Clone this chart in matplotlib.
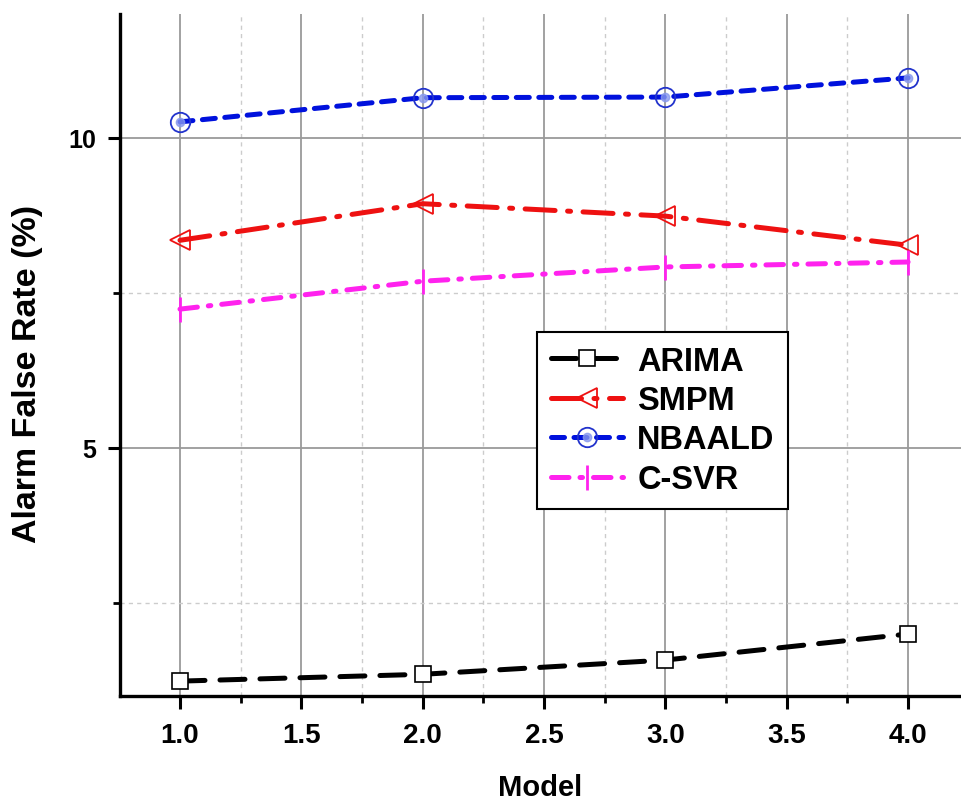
import matplotlib
matplotlib.use("Agg")
import matplotlib.pyplot as plt
from matplotlib.ticker import MultipleLocator, FixedLocator
from matplotlib.legend_handler import HandlerTuple

plt.rcParams['font.family'] = ['Liberation Sans', 'DejaVu Sans']
plt.rcParams['font.weight'] = 'bold'

models = [1.0, 2.0, 3.0, 4.0]
arima = [1.24, 1.35, 1.58, 2.00]
smpm = [8.35, 8.94, 8.74, 8.27]
nbaald = [10.26, 10.65, 10.66, 10.97]
csvr = [7.24, 7.69, 7.92, 8.00]
names = ['ARIMA', 'SMPM', 'NBAALD', 'C-SVR']
x_ticks = [1.0, 1.5, 2.0, 2.5, 3.0, 3.5, 4.0]
y_ticks = [5, 10]

fig = plt.figure(figsize=(9.61, 8.04), dpi=100)
ax = fig.add_axes([120/961, 107/804, 841/961, 682/804])

lw = 3.6
l1, = ax.plot(models, arima, color='black', lw=lw, dashes=(5, 3), dash_capstyle='round',
              marker='s', ms=11, mfc='white', mec='black', mew=1.2, label=names[0], zorder=3)
l2, = ax.plot(models, smpm, color='#ee1111', lw=lw, dashes=(6, 2.5, 0.6, 2.5), dash_capstyle='round',
              marker='<', ms=14, mfc='none', mec='#ee1111', mew=1.3, label=names[1], zorder=3)
l3, = ax.plot(models, nbaald, color='#0011dd', lw=lw, dashes=(2.6, 1.9), dash_capstyle='round',
              marker='o', ms=14, mfc='none', mec='#2233cc', mew=1.3, label=names[2], zorder=3)
d3, = ax.plot(models, nbaald, ls='none', marker='o', ms=6, mfc='#8899ee', mec='#8899ee',
              alpha=0.8, zorder=4, label='_nolegend_')
l4, = ax.plot(models, csvr, color='#ff22ee', lw=lw, dashes=(3.5, 2.2, 0.5, 2.2), dash_capstyle='round',
              marker='|', ms=18, mec='#ff22ee', mew=2.0, label=names[3], zorder=3)

ax.set_xlim(0.7528, 4.218)
ax.set_ylim(1.0, 12.0)

ax.xaxis.set_major_locator(FixedLocator(x_ticks))
ax.xaxis.set_minor_locator(MultipleLocator(0.25))
ax.yaxis.set_major_locator(FixedLocator(y_ticks))
ax.yaxis.set_minor_locator(FixedLocator([2.5, 7.5]))
ax.set_xticklabels(['%.1f' % v for v in x_ticks])
ax.set_yticklabels([str(v) for v in y_ticks])

ax.grid(True, which='major', color='#9a9a9a', lw=1.3, ls='-', zorder=0)
ax.grid(True, which='minor', color='#cccccc', lw=1.0, ls=(0, (3, 3)), zorder=0)
ax.set_axisbelow(True)

for s in ['top', 'right']:
    ax.spines[s].set_visible(False)
for s in ['left', 'bottom']:
    ax.spines[s].set_linewidth(2.4)
    ax.spines[s].set_color('black')

ax.tick_params(which='major', direction='out', length=9, width=2.2, pad=8)
ax.tick_params(which='minor', direction='out', length=5, width=2.0)
ax.tick_params(axis='x', which='major', labelsize=20, pad=10)
ax.tick_params(axis='y', which='major', labelsize=18)
for t in ax.get_xticklabels() + ax.get_yticklabels():
    t.set_fontweight('bold')

ax.set_xlabel('Model', fontsize=21, fontweight='bold', labelpad=18)
ax.set_ylabel('Alarm False Rate (%)', fontsize=24.5, fontweight='bold')
ax.yaxis.set_label_coords(-0.092, 0.474)

leg = ax.legend([l1, l2, (l3, d3), l4], names,
                handler_map={tuple: HandlerTuple(ndivide=1, pad=0)},
                loc='upper left', bbox_to_anchor=(0.496, 0.534), borderaxespad=0,
                fancybox=False, frameon=True, edgecolor='black', framealpha=1,
                prop={'size': 23.5, 'weight': 'bold'}, handlelength=2.2,
                labelspacing=0.26, borderpad=0.42, handletextpad=0.45)
leg.get_frame().set_linewidth(1.5)

fig.savefig('out.png', dpi=100)
